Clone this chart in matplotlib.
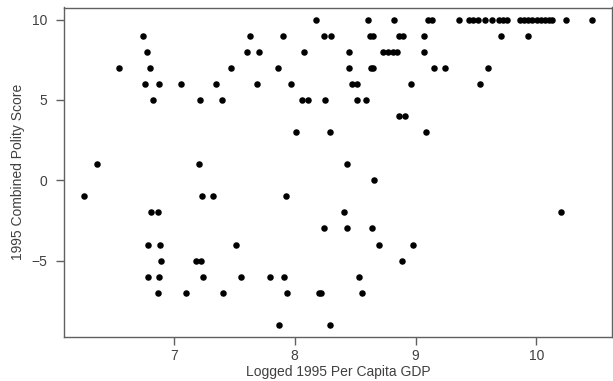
import numpy as np
import matplotlib
matplotlib.use('Agg')
import matplotlib.pyplot as plt

# %%
# 데이터: 점수(polity)별로 logged GDP 값
score_levels = [10, 9, 8, 7, 6, 5, 4, 3, 1, 0, -1, -2, -3, -4, -5, -6, -7, -9]
gdp_by_score = [
    [8.179, 8.608, 8.818, 9.104, 9.132, 9.360, 9.440, 9.473, 9.515, 9.573, 9.631, 9.688, 9.721,
     9.754, 9.862, 9.895, 9.928, 9.961, 10.003, 10.036, 10.069, 10.101, 10.126, 10.245, 10.457],
    [6.744, 7.633, 7.903, 8.245, 8.298, 8.622, 8.650, 8.865, 8.893, 9.066, 9.705, 9.931],
    [6.779, 7.606, 7.702, 8.074, 8.451, 8.727, 8.769, 8.810, 8.845, 9.066],
    [6.548, 6.801, 7.471, 7.862, 8.446, 8.628, 8.650, 9.149, 9.245, 9.603],
    [6.765, 6.876, 7.058, 7.347, 7.688, 7.969, 8.476, 8.515, 8.961, 9.529],
    [6.826, 7.220, 7.402, 8.060, 8.110, 8.248, 8.518, 8.587],
    [8.862, 8.914],
    [8.011, 8.289, 9.088],
    [6.364, 7.212, 8.432],
    [8.653],
    [6.259, 7.234, 7.322, 7.928],
    [6.807, 6.868, 8.410, 10.201],
    [8.240, 8.430, 8.641],
    [6.785, 6.889, 7.512, 8.694, 8.980],
    [6.892, 7.182, 7.226, 8.889],
    [6.785, 6.876, 7.237, 7.559, 7.793, 7.912, 8.534],
    [6.868, 7.099, 7.407, 7.939, 8.201, 8.215, 8.556],
    [7.868, 8.292],
]

gdp = []
polity = []
for s, xs in zip(score_levels, gdp_by_score):
    gdp += xs
    polity += [s] * len(xs)
gdp = np.array(gdp)
polity = np.array(polity)

# %%
plt.rcParams['font.family'] = ['Liberation Sans', 'DejaVu Sans']
fig = plt.figure(figsize=(6.13, 3.81), dpi=100)
ax = fig.add_axes([64 / 613, 44 / 381, 548 / 613, 329.5 / 381])

ax.scatter(gdp, polity, s=22, color='black', linewidths=0, zorder=3)

# R 기본 범위 (4% 확장)
xr = gdp.max() - gdp.min()
yr = polity.max() - polity.min()
ax.set_xlim(gdp.min() - 0.04 * xr, gdp.max() + 0.04 * xr)
ax.set_ylim(polity.min() - 0.04 * yr, polity.max() + 0.04 * yr)

ax.set_xticks([7, 8, 9, 10])
ax.set_yticks([-5, 0, 5, 10])
ax.set_yticklabels(['\u22125', '0', '5', '10'])

for sp in ax.spines.values():
    sp.set_color('#606060')
    sp.set_linewidth(1.0)
ax.tick_params(direction='out', length=6, width=1, color='#606060',
               labelcolor='#404040', labelsize=10)
ax.tick_params(axis='x', pad=3)
ax.tick_params(axis='y', pad=6)

ax.set_xlabel('Logged 1995 Per Capita GDP', fontsize=10, color='#404040')
ax.set_ylabel('1995 Combined Polity Score', fontsize=10, color='#404040')
ax.xaxis.set_label_coords(0.5, -0.086)
ax.yaxis.set_label_coords(-0.071, 0.5)

fig.savefig('out.png', dpi=100)
